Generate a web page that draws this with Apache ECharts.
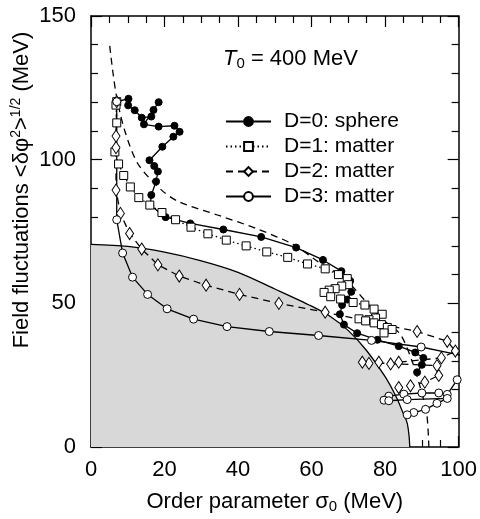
<!DOCTYPE html>
<html>
<head>
<meta charset="utf-8">
<script src="https://cdn.jsdelivr.net/npm/echarts/dist/echarts.min.js"></script>
<style>
  html, body { margin: 0; padding: 0; background: #fff; }
  #main { width: 480px; height: 519px; }
</style>
</head>
<body>
<div id="main"></div>
<script>
// values: [sigma0 (MeV), <dphi^2>^1/2 (MeV)]
const sphereD0 = [[7,120.2],[10.2,121.2],[10.1,118.9],[11.9,117.2],[13.8,114.6],[16.4,115],[17,117.3],[18.4,120],
  [14.4,112.3],[18.4,111.5],[22.7,111.8],[24.1,109.7],[22.4,108],[19.4,104.5],[15.9,99.8],[17.2,97.8],[18.2,95.9],
  [17.7,92.4],[16.4,87.7],[16.1,84.1],[20.3,80],[27,77.8],[36,75.7],[46.3,73.1],[55.8,69.4],[63.1,65.1],[68.1,61.2],
  [70.5,57.8],[70.8,54],[69.7,51.3],[68.3,49.4],[67.7,46.2],[68.8,42.6],[72.4,39.6],[77.9,37.3],[83.7,35.1],
  [88.2,32.9],[90.4,31],[90,28.6],[88.7,26]];
const matterD1 = [[7,120.2],[6.8,119],[7,112.8],[6.5,102.7],[7.5,98.5],[8.9,94.5],[10.7,90.5],[13,86.8],[16,84.2],
  [19.3,81.6],[23,79.1],[27.2,76.5],[31.8,74.2],[36.8,72],[42.2,70],[47.8,67.9],[53.5,66],[58.9,63.7],[63.7,62],
  [67.3,60],[69.7,58.6],[70,56.5],[68.2,56],[66.4,55.1],[64.8,54.6],[63.4,53.8],[65.2,52.3],[67.9,51.5],[71.3,50.3],
  [74.5,49.4],[77,48],[79.2,46.2],[77.4,44.9],[75.6,44.3],[72.9,44.6],[74.7,43.9],[77,43.2],[79,42.6],[80.6,41.6],
  [81.9,40.9],[79.7,39.7]];
const matterD2 = [[7,120.2],[6.8,108.2],[6.8,104.2],[6.8,89.4],[8,81.3],[10.5,74.3],[13.8,68.9],[18.2,63.4],[24,59.5],
  [31.3,56.3],[40.4,53.1],[51.1,50],[63.7,46.9],[88.7,40.2],[96.9,36.8],[99.1,33.4],[95.3,31],[83.7,29.5],[81.5,28.9],
  [78.3,29.5],[75.6,29.1],[73.8,29.5],[94.1,28.3],[94.6,24.9],[90.8,22.6],[86.9,21.3],[83.7,20.7]];
const matterD3 = [[7,120.2],[7,79.1],[8.6,67.5],[11.3,59.1],[15.4,53.1],[20.7,48.1],[27.9,44.5],[37,41.9],[48.5,40.2],
  [61.9,38.8],[76.3,37.1],[89.8,34.8],[104,31],[104,25],[99.6,23.4],[96.9,18.3],[94.6,18.8],[90,18.8],[85.1,18.4],
  [81,17.7],[79.7,16.3],[81,16.1],[86,16.5],[96.9,16.9],[94.1,15.2],[91,13.1],[87.8,12],[86,11.2]];
// dashed guide curve without markers
const dashedCurve = [[5.1,139.6],[6,130],[7.1,121],[9.2,110],[12.8,98.5],[19.2,89.4],[24,85.3],[35,80.5],[45,76],
  [55,70.5],[62,64.3],[69,58.6],[75.6,49.4],[80,43.7],[84.2,39.1],[87.3,30],[89.5,21],[91.3,11.7],[91.9,0]];
// boundary of the shaded region
const boundary = [[0,70.5],[10,69.8],[20,67.8],[30,64.8],[40,60.8],[50,55],[60,49],[65,45.5],[70,40.5],[75,33.5],
  [80,24.5],[83,17.5],[85,11.5],[86,8.3],[86.5,4],[86.7,0]];
const seriesNames = ['D=0: sphere', 'D=1: matter', 'D=2: matter', 'D=3: matter'];

const FONT = 'Liberation Sans, Arial, sans-serif';

function frameAxis(pos, max, interval, split, showLabel) {
  return {
    type: 'value', position: pos, min: 0, max: max, interval: interval,
    axisLine: {show: true, onZero: false, lineStyle: {color: '#000', width: 1.5}},
    axisTick: {show: true, inside: true, length: 11, lineStyle: {color: '#000', width: 1.2}},
    minorTick: {show: true, splitNumber: split, length: 7, lineStyle: {color: '#000', width: 1.2}},
    splitLine: {show: false},
    axisLabel: {show: showLabel, color: '#000', fontSize: 22, fontFamily: FONT, margin: 12}
  };
}

const xBottom = frameAxis('bottom', 100, 20, 4, true);
xBottom.name = 'Order parameter {g|σ}{sub|0} (MeV)';
xBottom.nameLocation = 'middle';
xBottom.nameGap = 43;
xBottom.nameTextStyle = {
  color: '#000', fontSize: 22, fontFamily: FONT,
  rich: {g: {fontSize: 22, fontFamily: FONT}, sub: {fontSize: 15, fontFamily: FONT, padding: [9, 0, 0, 0]}}
};
const yLeft = frameAxis('left', 150, 50, 5, true);
yLeft.axisLabel.margin = 15;

function trace(name, data, symbol, size, fill, dash) {
  return {
    name: name, type: 'line', data: data, symbol: symbol, symbolSize: size, smooth: false,
    showAllSymbol: true, clip: true, z: 5,
    itemStyle: {color: fill, borderColor: '#000', borderWidth: 1},
    lineStyle: {color: '#000', width: 1.3, type: dash}
  };
}

echarts.init(document.getElementById('main')).setOption({
  animation: false,
  textStyle: {fontFamily: FONT},
  grid: {left: 91, right: 20, top: 16, bottom: 65},
  xAxis: [xBottom, frameAxis('top', 100, 20, 4, false)],
  yAxis: [yLeft, frameAxis('right', 150, 50, 5, false)],
  legend: {
    data: seriesNames, orient: 'vertical', left: 220, top: 104,
    itemWidth: 45, itemHeight: 11, itemGap: 0,
    textStyle: {color: '#000', fontSize: 21, fontFamily: FONT, lineHeight: 25, padding: [0, 0, 0, 8]}
  },
  graphic: [
    {type: 'text', x: 22, y: 190, rotation: Math.PI / 2,
      style: {text: 'Field fluctuations <δφ{sup|2}>{sup|1/2} (MeV)', fill: '#000', fontSize: 22, fontFamily: FONT,
        align: 'center', verticalAlign: 'middle',
        rich: {sup: {fontSize: 14, fontFamily: FONT, padding: [0, 0, 12, 0]}}}},
    {type: 'text', left: 223, top: 48,
      style: {text: '{i|T}{sub|0} = 400 MeV', fill: '#000', fontSize: 22, fontFamily: FONT,
        rich: {i: {fontSize: 22, fontStyle: 'italic', fontFamily: FONT}, sub: {fontSize: 15, fontFamily: FONT, padding: [9, 0, 0, 0]}}}},
    {type: 'text', left: 163, top: 386,
      style: {text: 'Δ{i|t} = 0.2 fm/{i|c}', fill: '#000', fontSize: 22, fontFamily: FONT,
        rich: {i: {fontSize: 22, fontStyle: 'italic', fontFamily: FONT}}}}
  ],
  series: [
    {
      name: 'boundary', type: 'line', data: boundary, smooth: 0.3, symbol: 'none', z: 1,
      lineStyle: {color: '#000', width: 1.3}, areaStyle: {color: '#d8d8d8', opacity: 1}
    },
    {
      name: 'guide', type: 'line', data: dashedCurve, smooth: 0.3, symbol: 'none', z: 2,
      lineStyle: {color: '#000', width: 1.3, type: [7, 5]}
    },
    trace(seriesNames[0], sphereD0, 'circle', 7, '#000', 'solid'),
    trace(seriesNames[1], matterD1, 'rect', 8, '#fff', [1.5, 3]),
    trace(seriesNames[2], matterD2, 'diamond', [8, 12], '#fff', [7, 5]),
    trace(seriesNames[3], matterD3, 'circle', 8, '#fff', 'solid')
  ]
});
</script>
</body>
</html>
